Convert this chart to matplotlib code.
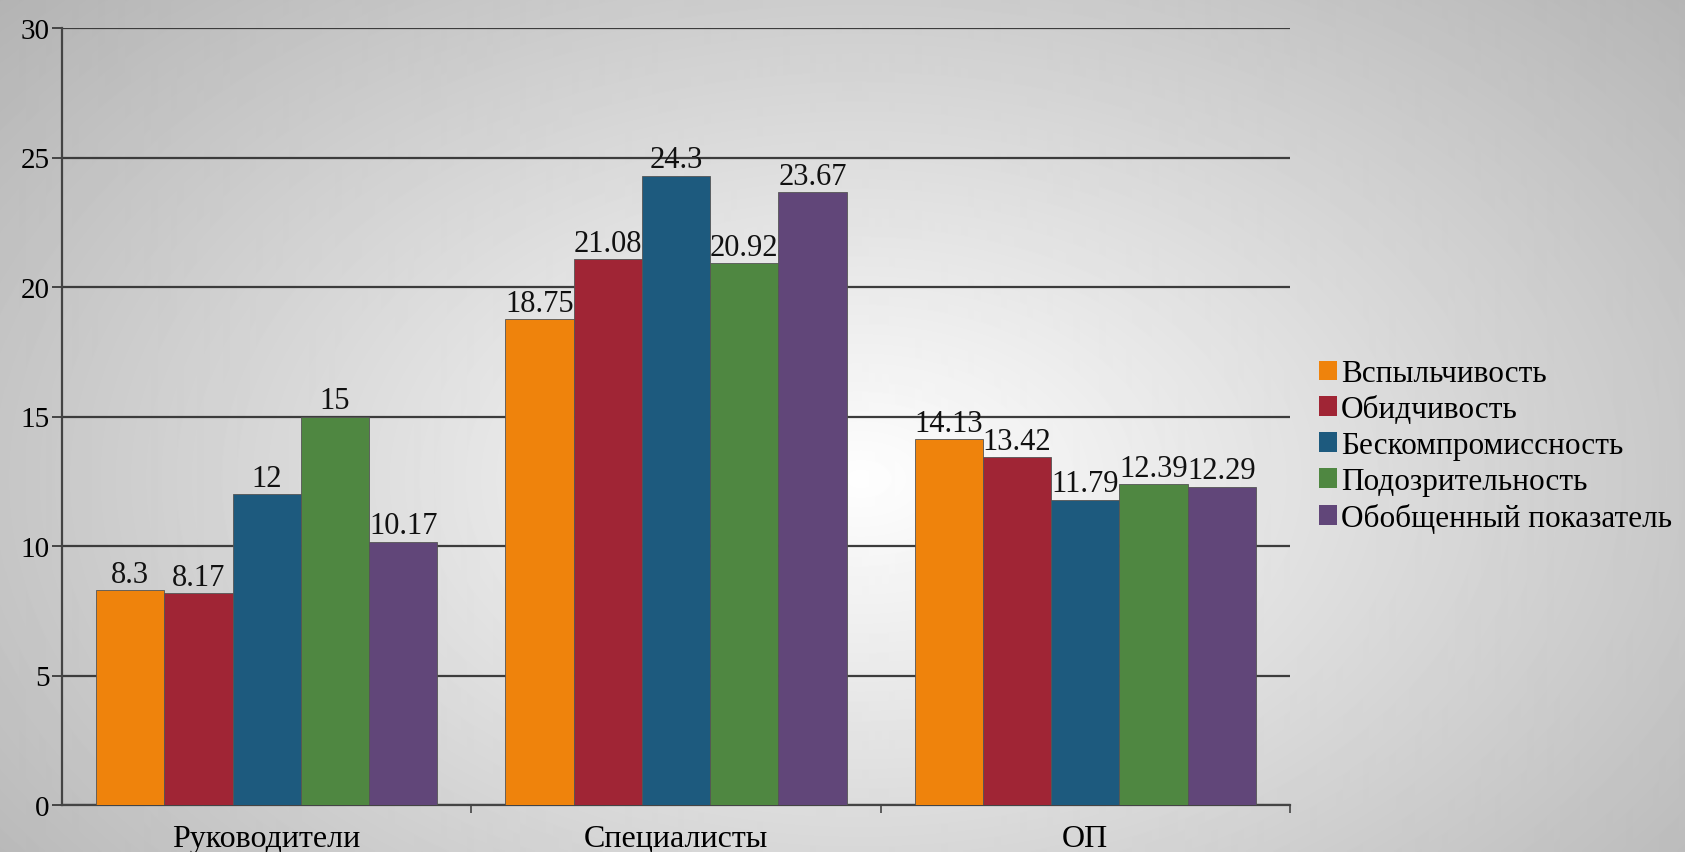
import numpy as np
import matplotlib.pyplot as plt
from matplotlib.patches import Patch

plt.rcParams['font.family'] = ['Liberation Serif', 'DejaVu Serif']

categories = ['Руководители', 'Специалисты', 'ОП']
series_names = ['Вспыльчивость', 'Обидчивость', 'Бескомпромиссность',
                'Подозрительность', 'Обобщенный показатель']
vspyl = [8.3, 18.75, 14.13]
obid = [8.17, 21.08, 13.42]
beskomp = [12, 24.3, 11.79]
podozr = [15, 20.92, 12.39]
obobshch = [10.17, 23.67, 12.29]
series = [vspyl, obid, beskomp, podozr, obobshch]
colors = ['#EF830C', '#A02535', '#1D5A7E', '#4F8741', '#614679']
y_ticks = [0, 5, 10, 15, 20, 25, 30]

W, H = 1685, 853
fig = plt.figure(figsize=(W / 100, H / 100), dpi=100)

# radial grey background, light in the middle
bg = fig.add_axes([0, 0, 1, 1], zorder=-10)
yy, xx = np.mgrid[0:H, 0:W]
d = np.sqrt(((xx - 860) / 1100.0) ** 2 + ((yy - 480) / 700.0) ** 2)
shade = np.clip(254 - 72 * d, 165, 255) / 255.0
bg.imshow(shade, cmap='gray', vmin=0, vmax=1, aspect='auto',
          extent=[0, 1, 0, 1], interpolation='bilinear')
bg.axis('off')

ax = fig.add_axes([62 / W, 1 - 806 / H, (1290 - 62) / W, (806 - 29) / H])
ax.set_facecolor('none')

n = len(series)
width = 0.834 / n
x = np.arange(len(categories))
for i, (vals, col) in enumerate(zip(series, colors)):
    pos = x - 0.417 + width * (i + 0.5)
    ax.bar(pos, vals, width, color=col, edgecolor='#555555', linewidth=0.6,
           zorder=3)
    for p, v in zip(pos, vals):
        ax.annotate(f'{v:g}', (p, v), xytext=(0, 1), textcoords='offset points',
                    ha='center', va='bottom', fontsize=22, color='#111111',
                    zorder=4)

ax.set_xlim(-0.5, 2.5)
ax.set_ylim(0, 30)
ax.set_yticks(y_ticks)
ax.yaxis.grid(True, color='#3c3c3c', linewidth=1.6, zorder=1)
ax.set_axisbelow(True)

ax.set_xticks(x)
ax.set_xticklabels(categories, fontsize=23)
ax.set_xticks([0.5, 1.5, 2.5], minor=True)
ax.tick_params(axis='x', which='major', length=0, pad=14)
ax.tick_params(axis='x', which='minor', length=6, width=1.2, color='#444444')
ax.tick_params(axis='y', length=7, width=1.4, color='#444444', labelsize=21,
               pad=2)

for s in ['top', 'right']:
    ax.spines[s].set_visible(False)
for s in ['left', 'bottom']:
    ax.spines[s].set_color('#444444')
    ax.spines[s].set_linewidth(1.6)

handles = [Patch(facecolor=c, edgecolor='none') for c in colors]
fig.legend(handles, series_names, loc='upper left',
           bbox_to_anchor=(1306 / W, 1 - 348 / H), frameon=False,
           fontsize=22.5, handlelength=0.6, handleheight=0.6,
           handletextpad=0.12, labelspacing=0.22, borderaxespad=0)

fig.savefig('out.png', dpi=100)
